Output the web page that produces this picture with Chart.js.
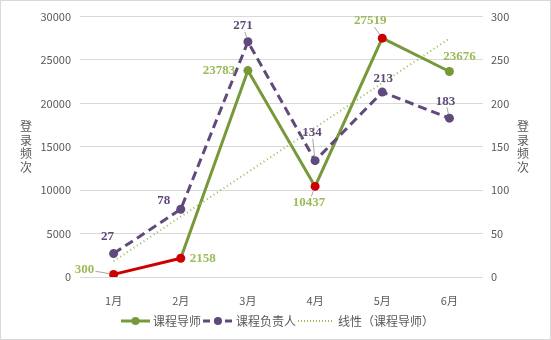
<!DOCTYPE html>
<html>
<head>
<meta charset="utf-8">
<script src="https://cdn.jsdelivr.net/npm/chart.js@4"></script>
<style>
  html, body { margin: 0; padding: 0; background: #fff; }
  #wrap { width: 551px; height: 340px; position: relative; box-sizing: border-box; border: 1px solid #d9d9d9; }
  canvas { display: block; }
</style>
</head>
<body>
<div id="wrap"><canvas id="chart" width="549" height="338"></canvas></div>
<script>
// Monthly login counts
const months = ['1月', '2月', '3月', '4月', '5月', '6月'];
const tutorLogins = [300, 2158, 23783, 10437, 27519, 23676];   // 课程导师 (left axis)
const leaderLogins = [27, 78, 271, 134, 213, 183];             // 课程负责人 (right axis)
const tutorTrend = [1816, 6948, 12080, 17211, 22343, 27475];   // 线性（课程导师）
const leftTicks = [0, 5000, 10000, 15000, 20000, 25000, 30000];
const rightTicks = [0, 50, 100, 150, 200, 250, 300];
const axisTitle = '登录频次';

// Colours
const GREEN = '#77993a';
const GREEN_LABEL = '#9bbb59';
const RED = '#cc0000';
const PURPLE = '#604a7b';
const GRID = '#d9d9d9';
const TEXT = '#595959';

// which tutor points are flagged red
const redPoints = [true, true, false, true, true, false];

// label offsets from the point (dx, dy) and whether a leader line is drawn
const tutorLabelPos = [[-29, -5, true], [22, 0, false], [-29, 0, false], [-6, 16, true], [-12, -17, true], [10, -15, false]];
const leaderLabelPos = [[-6, -17, false], [-17, -9, false], [-5, -16, true], [-3, -28, true], [1, -13, false], [-4, -17, true]];

const tickFont = { family: '"Noto Sans CJK SC", "DejaVu Sans", sans-serif', size: 11 };

const labelPlugin = {
  id: 'valueLabels',
  afterDatasetsDraw(chart) {
    const ctx = chart.ctx;
    ctx.save();
    ctx.font = 'bold 13px "Liberation Serif", "DejaVu Serif", serif';
    ctx.textAlign = 'center';
    ctx.textBaseline = 'middle';
    const sets = [
      { idx: 0, values: tutorLogins, pos: tutorLabelPos, color: GREEN_LABEL },
      { idx: 1, values: leaderLogins, pos: leaderLabelPos, color: '#5f497a' }
    ];
    sets.forEach(s => {
      const meta = chart.getDatasetMeta(s.idx);
      meta.data.forEach((pt, i) => {
        const [dx, dy, leader] = s.pos[i];
        const lx = pt.x + dx, ly = pt.y + dy;
        const text = String(s.values[i]);
        if (leader) {
          // leader runs from the edge of the label box to just short of the point
          const hw = ctx.measureText(text).width / 2 + 1;
          const hh = 6;
          const len = Math.hypot(dx, dy);
          const ux = -dx / len, uy = -dy / len;
          const t = Math.min(ux ? hw / Math.abs(ux) : Infinity, uy ? hh / Math.abs(uy) : Infinity);
          const sx = lx + ux * t, sy = ly + uy * t;
          const ex = pt.x - ux * 4, ey = pt.y - uy * 4;
          if ((ex - sx) * ux + (ey - sy) * uy > 1) {
            ctx.strokeStyle = '#a6a6a6';
            ctx.lineWidth = 1;
            ctx.beginPath();
            ctx.moveTo(sx, sy);
            ctx.lineTo(ex, ey);
            ctx.stroke();
          }
        }
        ctx.fillStyle = s.color;
        ctx.fillText(text, lx, ly);
      });
    });
    ctx.restore();
  }
};

const axisTitlePlugin = {
  id: 'stackedTitles',
  afterDraw(chart) {
    const ctx = chart.ctx;
    const area = chart.chartArea;
    ctx.save();
    ctx.font = '12px "Noto Sans CJK SC", sans-serif';
    ctx.fillStyle = TEXT;
    ctx.textAlign = 'center';
    ctx.textBaseline = 'middle';
    const chars = [...axisTitle];
    const step = 13.5;
    const top = (area.top + area.bottom) / 2 - step * (chars.length - 1) / 2;
    chars.forEach((c, i) => {
      ctx.fillText(c, 25, top + i * step);
      ctx.fillText(c, 522, top + i * step);
    });
    ctx.restore();
  }
};

const legendPlugin = {
  id: 'bottomLegend',
  afterDraw(chart) {
    const ctx = chart.ctx;
    const y = 320;
    ctx.save();
    ctx.font = '12px "Noto Sans CJK SC", sans-serif';
    ctx.fillStyle = TEXT;
    ctx.textBaseline = 'middle';
    ctx.textAlign = 'left';

    // 课程导师
    ctx.strokeStyle = GREEN; ctx.lineWidth = 3; ctx.setLineDash([]);
    ctx.beginPath(); ctx.moveTo(120, y); ctx.lineTo(149, y); ctx.stroke();
    ctx.fillStyle = GREEN;
    ctx.beginPath(); ctx.arc(134.5, y, 4, 0, Math.PI * 2); ctx.fill();
    ctx.fillStyle = TEXT;
    ctx.fillText('课程导师', 152, y);

    // 课程负责人
    ctx.strokeStyle = PURPLE; ctx.lineWidth = 3; ctx.setLineDash([7, 4]);
    ctx.beginPath(); ctx.moveTo(202, y); ctx.lineTo(232, y); ctx.stroke();
    ctx.setLineDash([]);
    ctx.fillStyle = PURPLE;
    ctx.beginPath(); ctx.arc(217, y, 4, 0, Math.PI * 2); ctx.fill();
    ctx.fillStyle = TEXT;
    ctx.fillText('课程负责人', 235, y);

    // trend line
    ctx.strokeStyle = GREEN_LABEL; ctx.lineWidth = 2; ctx.setLineDash([1, 2]);
    ctx.beginPath(); ctx.moveTo(297, y); ctx.lineTo(332, y); ctx.stroke();
    ctx.setLineDash([]);
    ctx.fillText('线性（课程导师）', 337, y);
    ctx.restore();
  }
};

new Chart(document.getElementById('chart'), {
  type: 'line',
  data: {
    labels: months,
    datasets: [
      {
        label: '课程导师',
        data: tutorLogins,
        yAxisID: 'y',
        borderColor: GREEN,
        borderWidth: 3,
        tension: 0,
        pointRadius: 4.5,
        pointBorderWidth: 0,
        pointBackgroundColor: redPoints.map(r => r ? RED : GREEN),
        segment: { borderColor: c => c.p0DataIndex === 0 ? RED : GREEN },
        order: 2
      },
      {
        label: '课程负责人',
        data: leaderLogins,
        yAxisID: 'y1',
        borderColor: PURPLE,
        borderWidth: 3,
        borderDash: [9, 5],
        tension: 0,
        pointRadius: 4.5,
        pointBorderWidth: 0,
        pointBackgroundColor: PURPLE,
        order: 1
      },
      {
        label: '线性（课程导师）',
        data: tutorTrend,
        yAxisID: 'y',
        borderColor: GREEN_LABEL,
        borderWidth: 2,
        borderDash: [1, 3],
        pointRadius: 0,
        tension: 0,
        order: 0
      }
    ]
  },
  options: {
    responsive: false,
    animation: false,
    layout: { padding: { top: 6, left: 0, right: 0, bottom: 0 } },
    plugins: { legend: { display: false }, tooltip: { enabled: false } },
    scales: {
      x: {
        offset: true,
        grid: { display: false },
        border: { display: false },
        ticks: { color: TEXT, font: tickFont, padding: 9, maxRotation: 0 },
        afterFit: s => { s.height = 62; }
      },
      y: {
        position: 'left',
        min: 0, max: 30000,
        afterBuildTicks: s => { s.ticks = leftTicks.map(v => ({ value: v })); },
        grid: { color: GRID, drawTicks: false },
        border: { display: false },
        ticks: { color: TEXT, font: tickFont, padding: 9, callback: v => String(v) },
        afterFit: s => { s.width = 79; }
      },
      y1: {
        position: 'right',
        min: 0, max: 300,
        afterBuildTicks: s => { s.ticks = rightTicks.map(v => ({ value: v })); },
        grid: { display: false, drawTicks: false },
        border: { display: false },
        ticks: { color: TEXT, font: tickFont, padding: 8, callback: v => String(v) },
        afterFit: s => { s.width = 67; }
      }
    }
  },
  plugins: [labelPlugin, axisTitlePlugin, legendPlugin]
});
</script>
</body>
</html>
